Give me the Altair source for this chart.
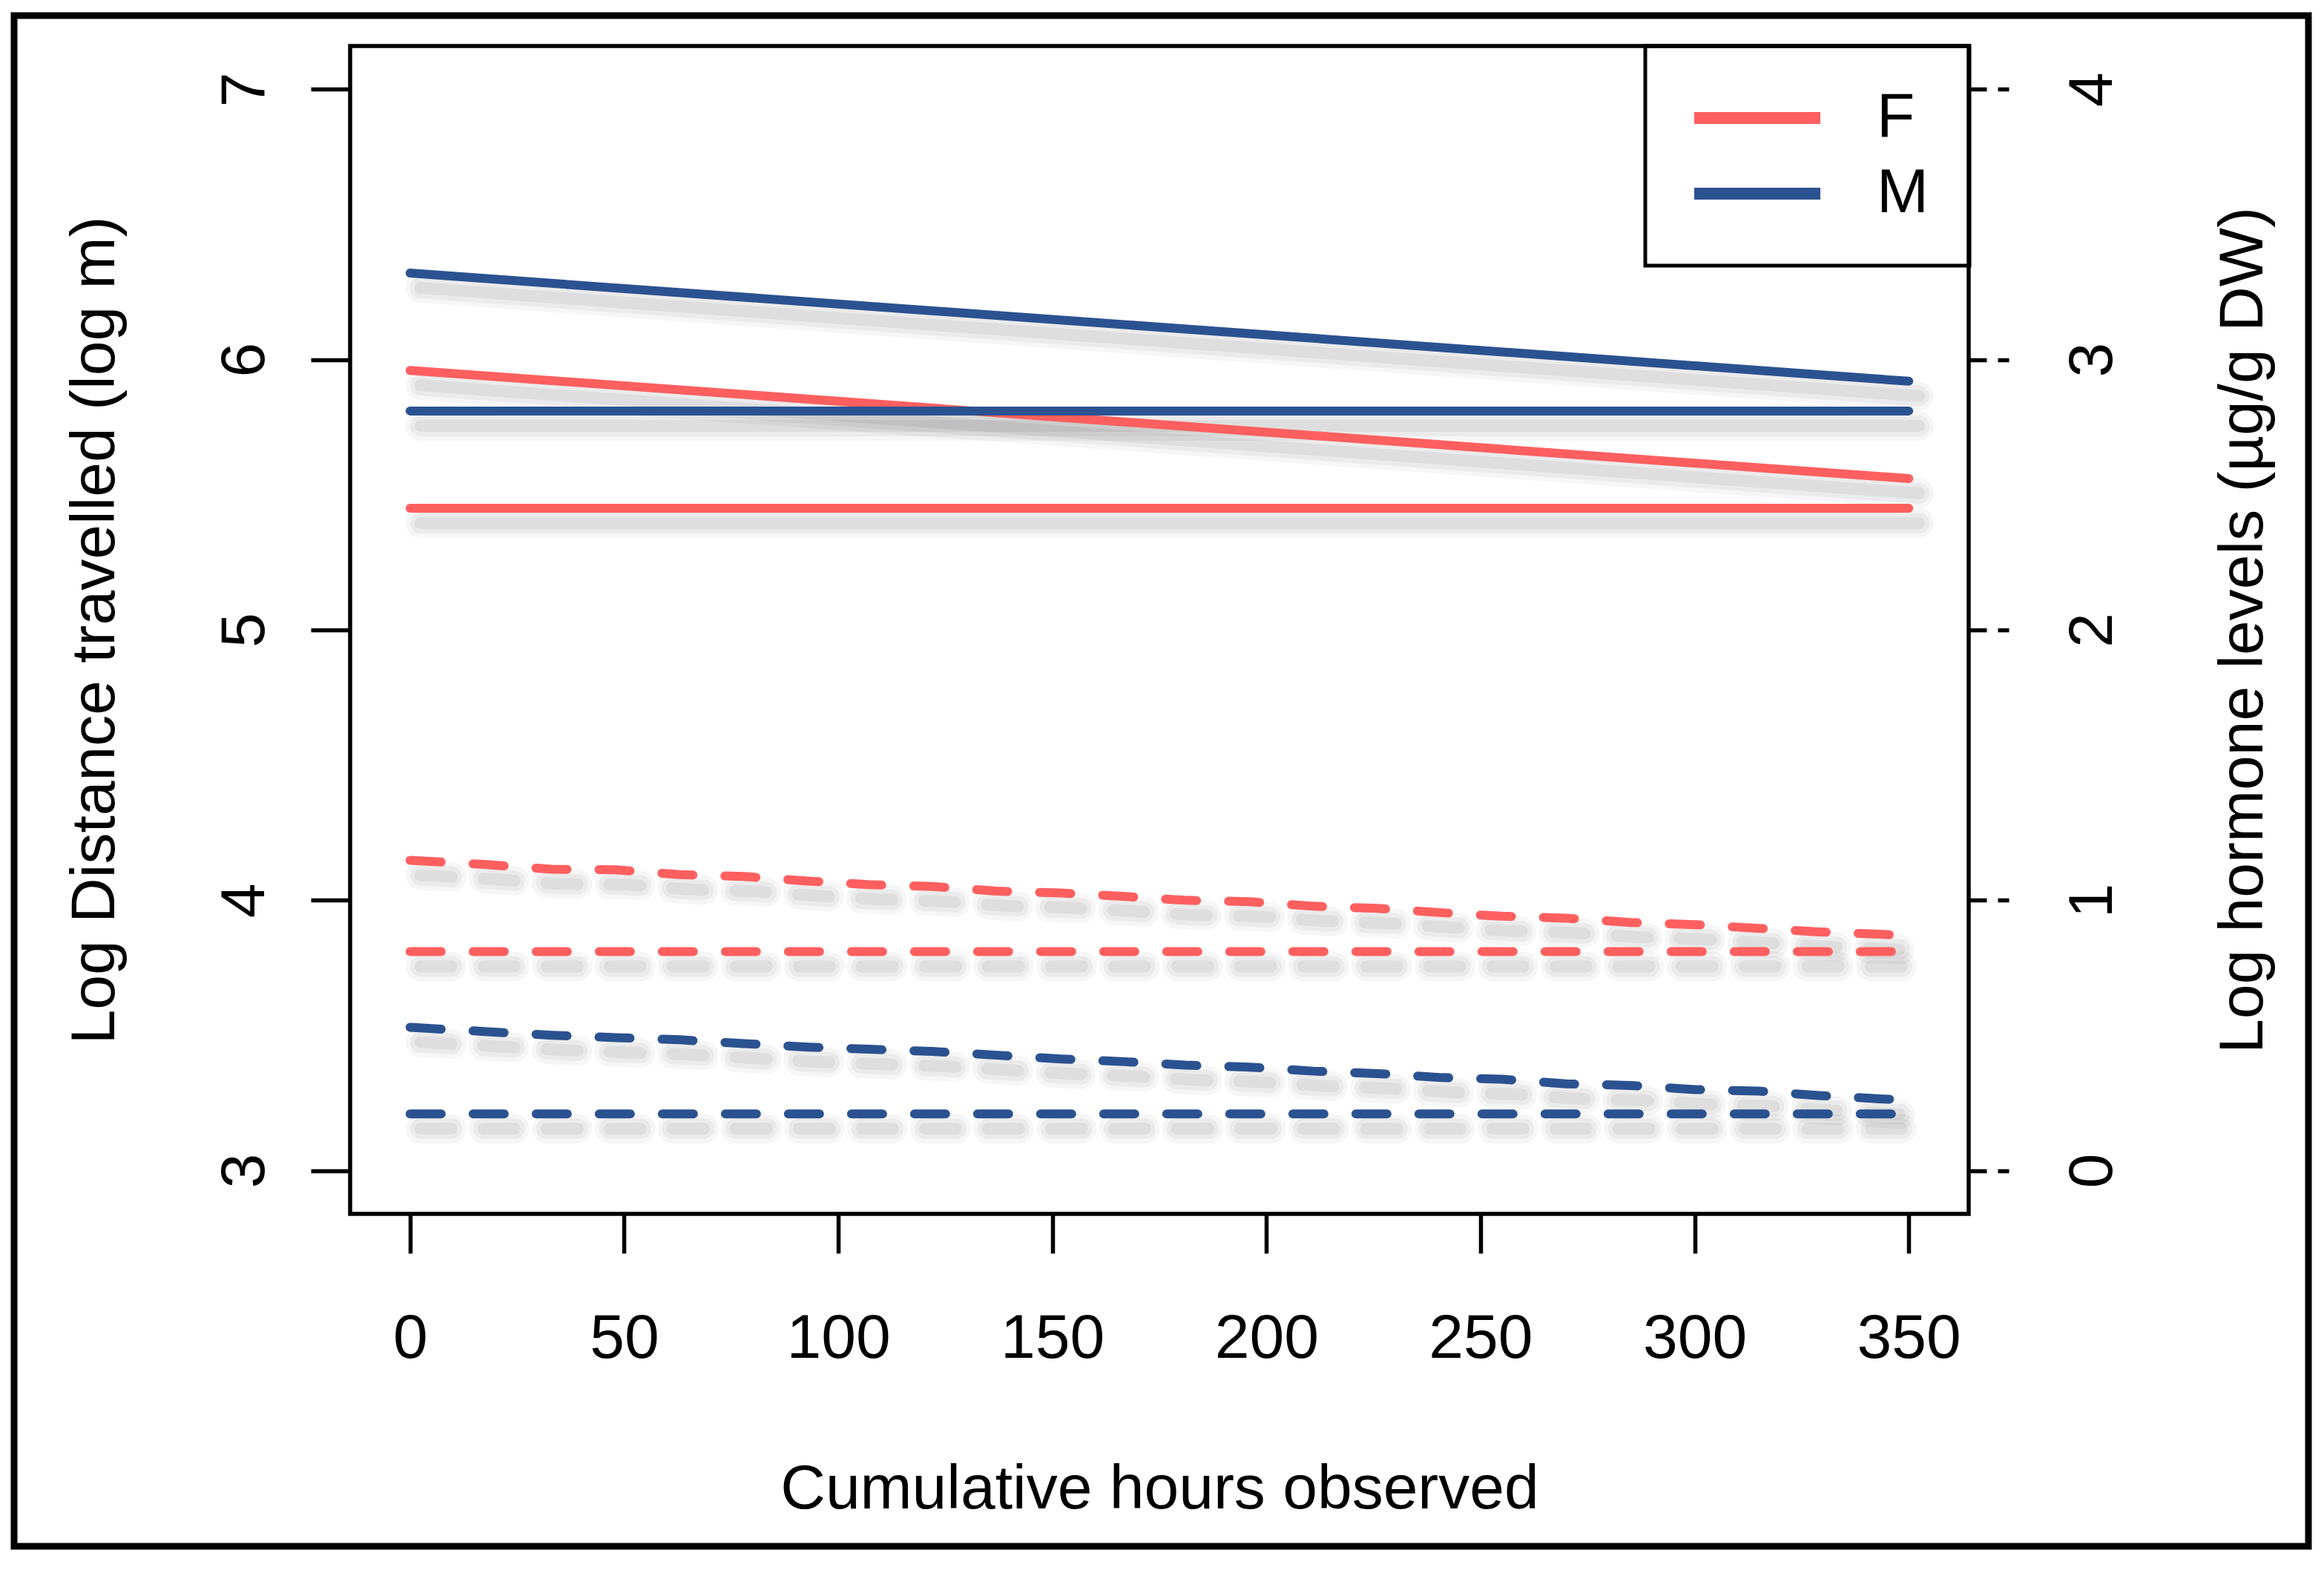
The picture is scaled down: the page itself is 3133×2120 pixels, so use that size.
import altair as alt
import pandas as pd

# ---------------- data ----------------
sexes = ["F", "M"]
colors = ["#FF5F5F", "#2B5290"]

hours_line = [0, 350]
dist_F_trend = [5.96, 5.56]
dist_M_trend = [6.32, 5.92]
dist_F_mean = [5.45, 5.45]
dist_M_mean = [5.81, 5.81]

hours_horm = [0, 18, 33, 48, 63, 78, 93, 107, 122, 137, 152, 167, 181,
              196, 211, 226, 241, 255, 270, 285, 300, 315, 329, 344, 350]
horm_F_trend = [1.148, 1.132, 1.115, 1.113, 1.095, 1.088, 1.071, 1.058, 1.051,
                1.034, 1.027, 1.014, 1.000, 0.995, 0.978, 0.970, 0.954, 0.941,
                0.934, 0.918, 0.910, 0.896, 0.883, 0.874, 0.868]
horm_M_trend = [0.530, 0.514, 0.501, 0.492, 0.484, 0.470, 0.457, 0.449, 0.441,
                0.427, 0.413, 0.403, 0.390, 0.383, 0.368, 0.359, 0.344, 0.338,
                0.321, 0.315, 0.300, 0.294, 0.278, 0.265, 0.262]
horm_F_mean = [0.81, 0.81]
horm_M_mean = [0.21, 0.21]

x_ticks = [0, 50, 100, 150, 200, 250, 300, 350]
left_ticks = [3, 4, 5, 6, 7]
right_ticks = [0, 1, 2, 3, 4]

# ---------------- tables ----------------
def rows(hours, values, sex, series):
    return [{"hours": h, "value": v, "sex": sex, "series": series} for h, v in zip(hours, values)]

dist_df = pd.DataFrame(
    rows(hours_line, dist_F_trend, "F", "F_trend")
    + rows(hours_line, dist_F_mean, "F", "F_mean")
    + rows(hours_line, dist_M_trend, "M", "M_trend")
    + rows(hours_line, dist_M_mean, "M", "M_mean")
)
horm_df = pd.DataFrame(
    rows(hours_horm, horm_F_trend, "F", "F_trend")
    + rows(hours_line, horm_F_mean, "F", "F_mean")
    + rows(hours_horm, horm_M_trend, "M", "M_trend")
    + rows(hours_line, horm_M_mean, "M", "M_mean")
)

FONT = "Liberation Sans"
FS = 84
PW, PH = 2182, 1574

x_enc = alt.X(
    "hours:Q",
    scale=alt.Scale(domain=[-14, 364], nice=False, zero=False),
    axis=alt.Axis(
        values=x_ticks, format="d", tickSize=53, labelPadding=140,
        labelBaseline="alphabetic", labelFlush=False, labelOverlap=False,
        title="Cumulative hours observed", titleX=PW / 2, titleY=396,
        titleBaseline="alphabetic", titleAlign="center", titleAngle=0,
    ),
)
y_left = alt.Y(
    "value:Q",
    scale=alt.Scale(domain=[2.84, 7.16], nice=False, zero=False),
    axis=alt.Axis(
        orient="left", values=left_ticks, format="d", tickSize=53,
        labelAngle=270, labelAlign="center", labelBaseline="alphabetic",
        labelPadding=64, labelOverlap=False,
        title="Log Distance travelled (log m)", titleAngle=270,
        titleX=-319, titleY=PH / 2, titleBaseline="alphabetic", titleAlign="center",
    ),
)
y_right = alt.Y(
    "value:Q",
    scale=alt.Scale(domain=[-0.16, 4.16], nice=False, zero=False),
    axis=alt.Axis(
        orient="right", values=right_ticks, format="d", tickSize=54,
        tickDash=[24, 15], labelAngle=270, labelAlign="center",
        labelBaseline="alphabetic", labelPadding=138, labelOverlap=False,
        title="Log hormone levels (µg/g DW)", titleAngle=270,
        titleX=395, titleY=PH / 2, titleBaseline="alphabetic", titleAlign="center",
    ),
)
color_scale = alt.Scale(domain=sexes, range=colors)

LEG_W = 436
legend = alt.Legend(
    title=None, orient="none", legendX=PW - LEG_W, legendY=0,
    symbolType="M-2.5,0H2.5", symbolSize=4624, symbolStrokeWidth=16,
    symbolOffset=54,
    labelFontSize=FS, labelFont=FONT, labelColor="black", labelOffset=119,
    padding=55, rowPadding=18, strokeColor="black",
)

DASH = [42, 43]

def shadow_layers(df, y_enc, dash=None):
    out = []
    for w, op in [(40, 0.035), (28, 0.045), (16, 0.055)]:
        kw = dict(strokeWidth=w, strokeCap="round", color="black", opacity=op,
                  xOffset=14, yOffset=20)
        if dash:
            kw["strokeDash"] = dash
        out.append(alt.Chart(df).mark_line(**kw).encode(x=x_enc, y=y_enc, detail="series:N"))
    return out

solid = alt.Chart(dist_df).mark_line(strokeWidth=12, strokeCap="round").encode(
    x=x_enc, y=y_left,
    color=alt.Color("sex:N", scale=color_scale, legend=legend),
    detail="series:N",
)
dashed = alt.Chart(horm_df).mark_line(strokeWidth=12, strokeCap="round", strokeDash=DASH).encode(
    x=x_enc, y=y_right,
    color=alt.Color("sex:N", scale=color_scale, legend=None),
    detail="series:N",
)

frame = alt.Chart(pd.DataFrame({"k": [0]})).mark_rect(
    filled=False, stroke="black", strokeWidth=9
).encode(
    x=alt.value(-453), x2=alt.value(2640), y=alt.value(-41), y2=alt.value(2022)
)

left = alt.layer(*shadow_layers(dist_df, y_left), solid, frame)
right = alt.layer(*shadow_layers(horm_df, y_right, DASH), dashed)

chart = (
    alt.layer(left, right)
    .resolve_scale(y="independent")
    .properties(
        width=PW, height=PH,
        autosize=alt.AutoSizeParams(type="none"),
        padding={"left": 464, "top": 54, "right": 466, "bottom": 460},
        background="white",
    )
    .configure_view(stroke="black", strokeWidth=5.5)
    .configure_axis(
        grid=False, domain=False, tickColor="black", tickWidth=5.5,
        labelColor="black", titleColor="black", labelFont=FONT, titleFont=FONT,
        labelFontSize=FS, titleFontSize=FS, titleFontWeight="normal",
    )
    .configure_legend(strokeWidth=5)
)

chart.save("out.html", embed_options={"renderer": "svg", "actions": False})
